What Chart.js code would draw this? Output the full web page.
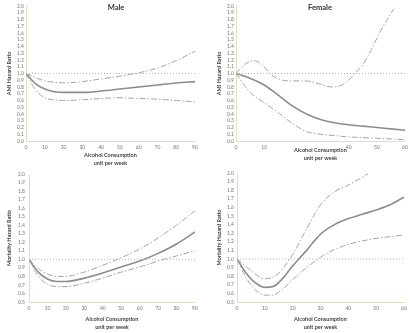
<!DOCTYPE html>
<html>
<head>
<meta charset="utf-8">
<script src="https://cdn.jsdelivr.net/npm/chart.js@4.4.0/dist/chart.umd.min.js"></script>
<style>
  body { margin: 0; background: #fff; width: 420px; height: 333px; position: relative; overflow: hidden; }
  canvas { position: absolute; }
</style>
</head>
<body>
<canvas id="c1" width="210" height="167" style="left:0;top:0"></canvas>
<canvas id="c2" width="210" height="167" style="left:210px;top:0"></canvas>
<canvas id="c3" width="210" height="166" style="left:0;top:167px"></canvas>
<canvas id="c4" width="210" height="166" style="left:210px;top:167px"></canvas>
<script>
// ── Data ──────────────────────────────────────────────────────
const maleAmiX  = [0, 5, 10, 15, 20, 30, 40, 50, 60, 70, 80, 90];
const maleAmiHr = [1.0, 0.85, 0.77, 0.73, 0.72, 0.72, 0.74, 0.77, 0.80, 0.83, 0.86, 0.88];
const maleAmiHi = [1.0, 0.94, 0.89, 0.87, 0.86, 0.88, 0.92, 0.96, 1.01, 1.08, 1.19, 1.33];
const maleAmiLo = [1.0, 0.76, 0.64, 0.61, 0.60, 0.61, 0.63, 0.64, 0.63, 0.62, 0.60, 0.58];

const femAmiX   = [0, 5, 10, 15, 20, 25, 30, 35, 40, 45, 50, 55, 60];
const femAmiHr  = [1.0, 0.93, 0.83, 0.68, 0.52, 0.40, 0.32, 0.27, 0.24, 0.22, 0.20, 0.18, 0.16];
const femAmiLo  = [1.0, 0.72, 0.57, 0.42, 0.26, 0.14, 0.10, 0.08, 0.06, 0.05, 0.04, 0.03, 0.02];
const femAmiHiX = [0, 3, 6, 8, 10, 12, 15, 20, 25, 30, 34, 37, 40, 42, 45, 48, 50, 52, 54, 56];
const femAmiHi  = [1.0, 1.13, 1.19, 1.17, 1.10, 1.0, 0.92, 0.89, 0.89, 0.84, 0.80, 0.82, 0.90, 0.99, 1.13, 1.35, 1.52, 1.68, 1.82, 1.96];

const maleMortX  = [0, 5, 10, 15, 20, 30, 40, 50, 60, 70, 80, 90];
const maleMortHr = [1.0, 0.85, 0.77, 0.74, 0.74, 0.78, 0.84, 0.91, 0.98, 1.07, 1.18, 1.32];
const maleMortHi = [1.0, 0.89, 0.83, 0.80, 0.80, 0.85, 0.93, 1.02, 1.12, 1.25, 1.40, 1.57];
const maleMortLo = [1.0, 0.80, 0.71, 0.68, 0.68, 0.72, 0.78, 0.85, 0.91, 0.98, 1.04, 1.10];

const femMortX   = [0, 3, 6, 10, 13, 16, 20, 25, 30, 35, 40, 45, 50, 55, 60];
const femMortHr  = [1.0, 0.85, 0.74, 0.67, 0.68, 0.76, 0.92, 1.10, 1.29, 1.40, 1.47, 1.52, 1.57, 1.63, 1.72];
const femMortLo  = [1.0, 0.80, 0.66, 0.58, 0.58, 0.64, 0.76, 0.90, 1.02, 1.11, 1.17, 1.21, 1.24, 1.26, 1.28];
const femMortHiX = [0, 3, 6, 10, 13, 16, 20, 25, 30, 35, 40, 45, 47];
const femMortHi  = [1.0, 0.92, 0.84, 0.77, 0.79, 0.87, 1.05, 1.35, 1.63, 1.78, 1.86, 1.95, 1.99];

const X_TITLE = ['Alcohol Consumption', 'unit per week'];

// ── Style ─────────────────────────────────────────────────────
const FONT = 'Lato, "Open Sans", sans-serif';
const AXIS_COLOR = '#e3dfc2';

function pts(xs, ys) {
  return xs.map((x, i) => ({ x, y: ys[i] }));
}

// panel title drawn inside the plot area
const panelTitle = {
  id: 'panelTitle',
  afterDraw(chart, args, opts) {
    if (!opts.text) return;
    const ctx = chart.ctx;
    ctx.save();
    ctx.font = 'bold 7.5px ' + FONT;
    ctx.fillStyle = '#333';
    ctx.textAlign = 'center';
    ctx.textBaseline = 'middle';
    ctx.fillText(opts.text, opts.x, opts.y);
    ctx.restore();
  }
};

function makePanel(id, p) {
  const ds = [
    { data: [{ x: 0, y: 1 }, { x: p.xMax, y: 1 }], borderColor: '#b5b5b5', borderWidth: 1, borderDash: [1, 2], tension: 0 },
    { data: p.hi, borderColor: '#a4a4a4', borderWidth: 1, borderDash: [6, 2, 1.5, 2] },
    { data: p.lo, borderColor: '#a4a4a4', borderWidth: 1, borderDash: [6, 2, 1.5, 2] },
    { data: p.hr, borderColor: '#8c8c8c', borderWidth: 1.6 }
  ];
  return new Chart(document.getElementById(id), {
    type: 'line',
    data: { datasets: ds },
    plugins: [panelTitle],
    options: {
      responsive: false,
      animation: false,
      layout: { padding: p.pad },
      elements: { point: { radius: 0 }, line: { cubicInterpolationMode: 'monotone' } },
      plugins: {
        legend: { display: false },
        tooltip: { enabled: false },
        panelTitle: p.title || {}
      },
      scales: {
        x: {
          type: 'linear', min: 0, max: p.xMax,
          grid: { display: false, drawTicks: false },
          border: { display: true, color: AXIS_COLOR, width: 1, dash: [1, 1.5] },
          ticks: {
            stepSize: 10, autoSkip: false, maxRotation: 0, padding: 3,
            color: '#777', font: { family: FONT, size: 5 },
            callback: v => (p.hideX && p.hideX.includes(v)) ? '' : String(v)
          },
          title: {
            display: true, text: X_TITLE, color: '#444',
            font: { family: FONT, size: 5.5, weight: 'bold', lineHeight: 1.45 },
            padding: { top: 0, bottom: p.xTitlePad }
          },
          afterFit: s => { s.height = p.xH; }
        },
        y: {
          min: p.yMin, max: 2.0,
          grid: { display: false, drawTicks: false },
          border: { display: true, color: AXIS_COLOR, width: 1 },
          ticks: {
            stepSize: 0.1, autoSkip: false, padding: p.yPad,
            color: '#777', font: { family: FONT, size: 5 },
            callback: v => v.toFixed(1)
          },
          title: {
            display: true, text: p.yTitle, color: '#444',
            font: { family: FONT, size: 5.5, weight: 'bold' },
            padding: { top: 6, bottom: 0 }
          },
          afterFit: s => { s.width = p.yW; }
        }
      }
    }
  });
}

// ── Panels ────────────────────────────────────────────────────
makePanel('c1', {
  xMax: 90, yMin: 0, yTitle: 'AMI Hazard Ratio',
  hr: pts(maleAmiX, maleAmiHr), hi: pts(maleAmiX, maleAmiHi), lo: pts(maleAmiX, maleAmiLo),
  pad: { left: 0, right: 15, top: 6, bottom: 0 }, yW: 26, xH: 26, xTitlePad: 0, yPad: 2,
  title: { text: 'Male', x: 116, y: 8 }
});

makePanel('c2', {
  xMax: 60, yMin: 0, yTitle: 'AMI Hazard Ratio', hideX: [20, 30],
  hr: pts(femAmiX, femAmiHr), hi: pts(femAmiHiX, femAmiHi), lo: pts(femAmiX, femAmiLo),
  pad: { left: 0, right: 15, top: 6, bottom: 0 }, yW: 26, xH: 26, xTitlePad: 5, yPad: 2,
  title: { text: 'Female', x: 110, y: 8 }
});

makePanel('c3', {
  xMax: 90, yMin: 0.5, yTitle: 'Mortality Hazard Ratio',
  hr: pts(maleMortX, maleMortHr), hi: pts(maleMortX, maleMortHi), lo: pts(maleMortX, maleMortLo),
  pad: { left: 0, right: 15, top: 4, bottom: 0 }, yW: 29, xH: 31, xTitlePad: 2, yPad: 4
});

makePanel('c4', {
  xMax: 60, yMin: 0.5, yTitle: 'Mortality Hazard Ratio',
  hr: pts(femMortX, femMortHr), hi: pts(femMortHiX, femMortHi), lo: pts(femMortX, femMortLo),
  pad: { left: 0, right: 16, top: 4, bottom: 0 }, yW: 27, xH: 31, xTitlePad: 2, yPad: 3
});
</script>
</body>
</html>
